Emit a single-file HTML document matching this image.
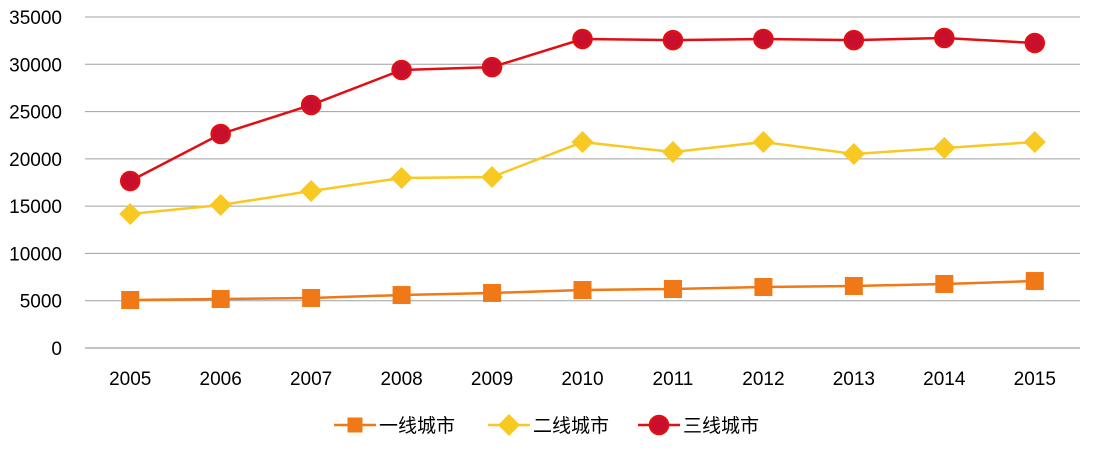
<!DOCTYPE html>
<html><head><meta charset="utf-8"><style>
body{margin:0;background:#fff;}
svg text{font-family:"Liberation Sans","Noto Sans CJK SC",sans-serif;fill:#000;}
</style></head><body>
<svg id="chart" width="1094" height="447" xmlns="http://www.w3.org/2000/svg"></svg>
<script>
const categories=["2005","2006","2007","2008","2009","2010","2011","2012","2013","2014","2015"];
const tier1=[5075,5180,5290,5600,5820,6130,6240,6450,6560,6770,7080];
const tier2=[14170,15120,16600,17980,18080,21780,20720,21780,20510,21150,21780];
const tier3=[17660,22630,25700,29400,29700,32670,32560,32670,32560,32780,32250];
const yTicks=[0,5000,10000,15000,20000,25000,30000,35000];
const seriesNames=["一线城市","二线城市","三线城市"];
const NS="http://www.w3.org/2000/svg";
const svg=document.getElementById('chart');
const x0=85,x1=1080,y0=348,y1=17,ymax=35000;
const step=(x1-x0)/categories.length;
function xs(i){return x0+step*(i+0.5);}
function ys(v){return y0-(v/ymax)*(y0-y1);}
function el(t,a){const e=document.createElementNS(NS,t);for(const k in a)e.setAttribute(k,a[k]);svg.appendChild(e);return e;}
yTicks.forEach(v=>{
  const l=el('line',{x1:x0,x2:x1,y1:ys(v),y2:ys(v),stroke:v===0?'#888':'#a0a0a0','stroke-width':1});
  
  
  const t=el('text',{x:62,y:ys(v)+7,'text-anchor':'end','font-size':19});
  t.textContent=v;
  
  
});
categories.forEach((c,i)=>{
  const t=el('text',{x:xs(i),y:385,'text-anchor':'middle','font-size':19});
  t.textContent=c;
  
  
});
function marker(type,cx,cy,color,stroke){
  let m;
  if(type==='sq')m=el('rect',{x:cx-9,y:cy-9,width:18,height:18,fill:color});
  else if(type==='di')m=el('polygon',{points:`${cx},${cy-11} ${cx+11},${cy} ${cx},${cy+11} ${cx-11},${cy}`,fill:color});
  else m=el('circle',{cx:cx,cy:cy,r:9,fill:color,stroke:stroke,'stroke-width':2.5});
  return m;
}
const series=[[tier1,'#f07816','#f07816','sq'],[tier2,'#f8c823','#f8c823','di'],[tier3,'#c8102e','#e00f14','ci']];
series.forEach((s,k)=>{
  const [vals,fill,line,type]=s;
  const p=el('polyline',{points:vals.map((v,i)=>xs(i)+','+ys(v)).join(' '),fill:'none',stroke:line,'stroke-width':2.5});
  
  
  vals.forEach((v,i)=>{
    const m=marker(type,xs(i),ys(v),fill,line);
    
    
  });
});
const lx=[334,488,638];
seriesNames.forEach((n,k)=>{
  const [vals,fill,line,type]=series[k];
  const l=el('line',{x1:lx[k],x2:lx[k]+42,y1:425,y2:425,stroke:line,'stroke-width':2.5});
  
  
  const m=marker(type,lx[k]+21,425,fill,line);
  if(type==='sq'){m.setAttribute('width',15);m.setAttribute('height',15);m.setAttribute('x',lx[k]+13.5);m.setAttribute('y',417.5);}
  
  
  const t=el('text',{x:lx[k]+45,y:432,'font-size':19});
  t.textContent=n;
  
  
});
</script>
</body></html>
